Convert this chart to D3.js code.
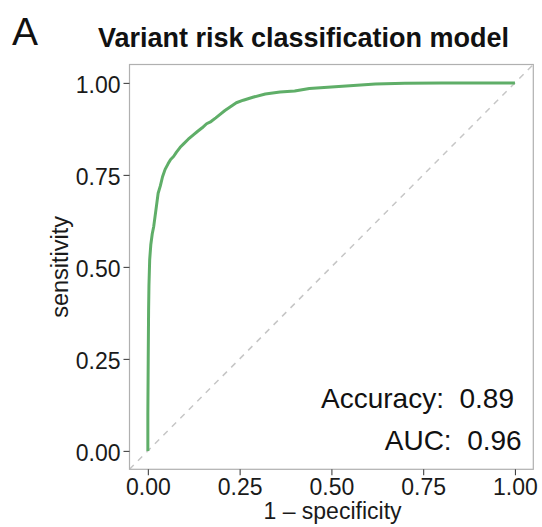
<!DOCTYPE html>
<html>
<head>
<meta charset="utf-8">
<script src="https://cdn.jsdelivr.net/npm/d3@7"></script>
<style>
  html, body { margin: 0; padding: 0; background: #ffffff; }
  svg { display: block; font-family: "Liberation Sans", Arial, Helvetica, sans-serif; }
</style>
</head>
<body>
<svg id="chart" width="542" height="527"></svg>
<script>
// ROC curve of the variant risk classifier (false positive rate vs true positive rate)
const fpr = [0.000, 0.000, 0.001, 0.002, 0.003, 0.005, 0.008, 0.012, 0.016, 0.020,
             0.024, 0.028, 0.034, 0.040, 0.047, 0.055, 0.062, 0.070, 0.078, 0.088,
             0.098, 0.110, 0.124, 0.135, 0.148, 0.160, 0.172, 0.185, 0.196, 0.210,
             0.225, 0.241, 0.260, 0.286, 0.320, 0.360, 0.400, 0.440, 0.500, 0.550,
             0.620, 0.700, 0.800, 1.000];
const tpr = [0.000, 0.100, 0.250, 0.380, 0.450, 0.520, 0.560, 0.590, 0.610, 0.640,
             0.670, 0.700, 0.720, 0.745, 0.765, 0.780, 0.792, 0.800, 0.812, 0.825,
             0.835, 0.847, 0.859, 0.868, 0.878, 0.889, 0.895, 0.905, 0.914, 0.925,
             0.935, 0.946, 0.953, 0.961, 0.970, 0.975, 0.978, 0.985, 0.989, 0.992,
             0.997, 0.999, 1.000, 1.000];

const xTicks = [0, 0.25, 0.5, 0.75, 1];
const yTicks = [0, 0.25, 0.5, 0.75, 1];

const titleText = "Variant risk classification model";
const panelTag = "A";
const xTitle = "1 \u2013 specificity";
const yTitle = "sensitivity";
const statLabels = ["Accuracy:", "AUC:"];
const statValues = [0.89, 0.96];

const svg = d3.select("#chart");
const panel = { left: 129.5, right: 533.3, top: 64.5, bottom: 469.3 };

const x = d3.scaleLinear().domain([-0.05, 1.05]).range([panel.left, panel.right]);
const y = d3.scaleLinear().domain([-0.05, 1.05]).range([panel.bottom, panel.top]);

svg.append("rect").attr("width", 542).attr("height", 527).attr("fill", "#ffffff");

svg.append("defs").append("clipPath").attr("id", "panel-clip")
  .append("rect")
  .attr("x", panel.left).attr("y", panel.top)
  .attr("width", panel.right - panel.left).attr("height", panel.bottom - panel.top);

const plot = svg.append("g").attr("clip-path", "url(#panel-clip)");

// chance diagonal
plot.append("line")
  .attr("x1", x(-0.05)).attr("y1", y(-0.05))
  .attr("x2", x(1.05)).attr("y2", y(1.05))
  .attr("stroke", "#c6c6c6").attr("stroke-width", 1.5)
  .attr("stroke-dasharray", "6,6");

// ROC curve
const rocPoints = fpr.map((f, i) => [f, tpr[i]]);
plot.append("path")
  .datum(rocPoints)
  .attr("fill", "none")
  .attr("stroke", "#5fae68")
  .attr("stroke-width", 3)
  .attr("stroke-linejoin", "round")
  .attr("d", d3.line().x(d => x(d[0])).y(d => y(d[1])));

// panel border
svg.append("rect")
  .attr("x", panel.left).attr("y", panel.top)
  .attr("width", panel.right - panel.left).attr("height", panel.bottom - panel.top)
  .attr("fill", "none").attr("stroke", "#b0b0b0").attr("stroke-width", 1.2);

const fmt = d3.format(".2f");

const xAxis = svg.append("g")
  .attr("transform", `translate(0,${panel.bottom})`)
  .call(d3.axisBottom(x).tickValues(xTicks).tickFormat(fmt).tickSize(6).tickPadding(3.4));
const yAxis = svg.append("g")
  .attr("transform", `translate(${panel.left},0)`)
  .call(d3.axisLeft(y).tickValues(yTicks).tickFormat(fmt).tickSize(6).tickPadding(3));

[xAxis, yAxis].forEach(g => {
  g.select(".domain").remove();
  g.selectAll(".tick line").attr("stroke", "#444444").attr("stroke-width", 1.1);
  g.selectAll(".tick text")
    .attr("fill", "#1a1a1a")
    .style("font-size", "23px")
    .style("font-family", "'Liberation Sans', Arial, Helvetica, sans-serif");
});
yAxis.selectAll(".tick text").attr("dy", "0.4em");

// titles
svg.append("text")
  .attr("x", 12).attr("y", 45)
  .style("font-size", "39px")
  .attr("fill", "#111111")
  .text(panelTag);

svg.append("text")
  .attr("x", 303.5).attr("y", 47)
  .attr("text-anchor", "middle")
  .style("font-size", "27px").style("font-weight", "bold")
  .attr("fill", "#111111")
  .text(titleText);

svg.append("text")
  .attr("x", 332.5).attr("y", 519)
  .attr("text-anchor", "middle")
  .style("font-size", "23px")
  .attr("fill", "#1a1a1a")
  .text(xTitle);

svg.append("text")
  .attr("transform", `translate(68,${(panel.top + panel.bottom) / 2}) rotate(-90)`)
  .attr("text-anchor", "middle")
  .style("font-size", "23.5px")
  .attr("fill", "#1a1a1a")
  .text(yTitle);

// performance annotations
const statPos = [{ x: 514, y: 408 }, { x: 521.7, y: 450 }];
statLabels.forEach((lab, i) => {
  svg.append("text")
    .attr("x", statPos[i].x).attr("y", statPos[i].y)
    .attr("text-anchor", "end")
    .style("font-size", "28px")
    .style("white-space", "pre")
    .attr("fill", "#111111")
    .text(`${lab}  ${fmt(statValues[i])}`);
});
</script>
</body>
</html>
